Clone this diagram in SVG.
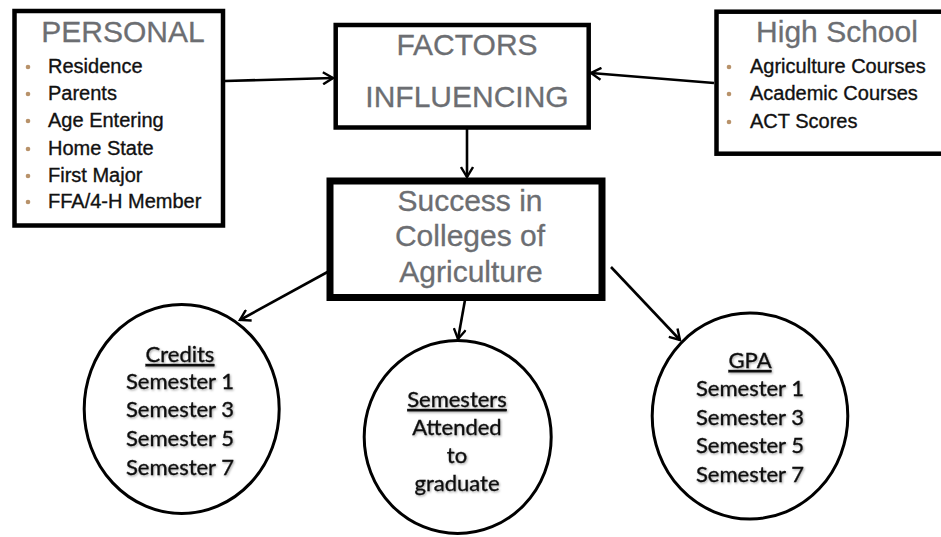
<svg xmlns="http://www.w3.org/2000/svg" width="941" height="537" viewBox="0 0 941 537">
  <defs>
    <marker id="arr" viewBox="0 0 14 14" refX="12" refY="7" markerWidth="14" markerHeight="14" markerUnits="userSpaceOnUse" orient="auto">
      <path d="M2,1 L12,7 L2,13" fill="none" stroke="#000" stroke-width="2.4" stroke-linejoin="miter"/>
    </marker>
    <filter id="sh" x="-10%" y="-20%" width="130%" height="150%">
      <feDropShadow dx="1" dy="1.2" stdDeviation="0.8" flood-color="#000" flood-opacity="0.35"/>
    </filter>
  </defs>
  <style>
    .box { fill: #fff; stroke: #000; stroke-width: 4.5; }
    .circ { fill: #fff; stroke: #000; stroke-width: 3; }
    .head { font-family: "Liberation Sans", Arial, sans-serif; font-size: 30px; fill: #6c6e72; stroke: #6c6e72; stroke-width: 0.3; text-anchor: middle; }
    .item { font-family: "Liberation Sans", Arial, sans-serif; font-size: 20px; fill: #111; stroke: #111; stroke-width: 0.35; }
    .dot { fill: #b8926a; }
    .ct { font-family: Lato, "Open Sans", sans-serif; font-size: 22px; fill: #111; stroke: #111; stroke-width: 0.35; text-anchor: middle; filter: url(#sh); }
    .u { text-decoration: underline; }
    .conn { stroke: #000; stroke-width: 2.6; fill: none; marker-end: url(#arr); }
  </style>
  <rect width="941" height="537" fill="#fff"/>

  <g id="connectors">
    <line class="conn" x1="225" y1="81" x2="333" y2="78"/>
    <line class="conn" x1="714" y1="83" x2="591" y2="73"/>
    <line class="conn" x1="467" y1="117" x2="467" y2="177"/>
    <line class="conn" x1="333" y1="269" x2="240" y2="320"/>
    <line class="conn" x1="465" y1="300" x2="458" y2="339"/>
    <line class="conn" x1="611" y1="267" x2="680" y2="340"/>
  </g>

  <g id="personal">
    <rect class="box" x="14.5" y="11" width="208.5" height="214.5"/>
    <text class="head" x="123" y="42">PERSONAL</text>
    <circle class="dot" cx="28" cy="67" r="2.3"/>
    <circle class="dot" cx="28" cy="94" r="2.3"/>
    <circle class="dot" cx="28" cy="121" r="2.3"/>
    <circle class="dot" cx="28" cy="149" r="2.3"/>
    <circle class="dot" cx="28" cy="176" r="2.3"/>
    <circle class="dot" cx="28" cy="202" r="2.3"/>
    <text class="item" x="48" y="73">Residence</text>
    <text class="item" x="48" y="100">Parents</text>
    <text class="item" x="48" y="127">Age Entering</text>
    <text class="item" x="48" y="155">Home State</text>
    <text class="item" x="48" y="182">First Major</text>
    <text class="item" x="48" y="208">FFA/4-H Member</text>
  </g>

  <g id="factors">
    <rect class="box" x="335.7" y="25" width="253" height="102.5"/>
    <text class="head" x="467" y="55">FACTORS</text>
    <text class="head" x="467" y="107">INFLUENCING</text>
  </g>

  <g id="highschool">
    <rect class="box" x="716.5" y="11.7" width="240" height="142"/>
    <text class="head" x="837" y="42">High School</text>
    <circle class="dot" cx="729" cy="67" r="2.3"/>
    <circle class="dot" cx="729" cy="94" r="2.3"/>
    <circle class="dot" cx="729" cy="122" r="2.3"/>
    <text class="item" x="750" y="73">Agriculture Courses</text>
    <text class="item" x="750" y="100">Academic Courses</text>
    <text class="item" x="750" y="128">ACT Scores</text>
  </g>

  <g id="success">
    <rect class="box" x="330" y="181" width="272" height="116.5" style="stroke-width:7"/>
    <text class="head" x="470" y="211">Success in</text>
    <text class="head" x="470" y="246">Colleges of</text>
    <text class="head" x="471" y="282">Agriculture</text>
  </g>

  <g id="credits">
    <ellipse class="circ" cx="181.7" cy="409" rx="97.5" ry="104.5"/>
    <text class="ct u" x="180" y="362">Credits</text>
    <text class="ct" x="180" y="389">Semester 1</text>
    <text class="ct" x="180" y="417">Semester 3</text>
    <text class="ct" x="180" y="446">Semester 5</text>
    <text class="ct" x="180" y="475">Semester 7</text>
  </g>

  <g id="semesters">
    <ellipse class="circ" cx="457.7" cy="437" rx="93.5" ry="96.5"/>
    <text class="ct u" x="457" y="407">Semesters</text>
    <text class="ct" x="457" y="435">Attended</text>
    <text class="ct" x="457" y="463">to</text>
    <text class="ct" x="457" y="491">graduate</text>
  </g>

  <g id="gpa">
    <ellipse class="circ" cx="750" cy="416" rx="97.8" ry="103"/>
    <text class="ct u" x="750" y="368">GPA</text>
    <text class="ct" x="750" y="396">Semester 1</text>
    <text class="ct" x="750" y="425">Semester 3</text>
    <text class="ct" x="750" y="453">Semester 5</text>
    <text class="ct" x="750" y="482">Semester 7</text>
  </g>
</svg>
